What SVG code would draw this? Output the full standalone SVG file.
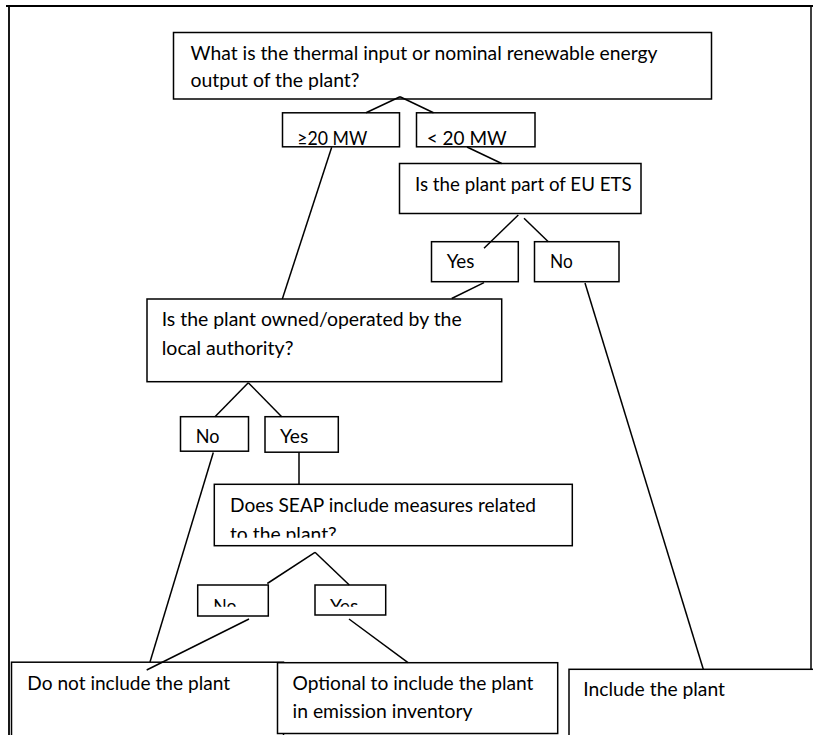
<svg xmlns="http://www.w3.org/2000/svg" width="813" height="735" viewBox="0 0 813 735">
<style>
.box{fill:#fff;stroke:#000;stroke-width:1.5}
.t{font-family:Lato,"Liberation Sans",sans-serif;font-size:19.5px;fill:#000}
.c line{stroke:#000;stroke-width:1.5}
.frame{stroke:#000;fill:none}
</style>
<defs>
<clipPath id="clipSeap"><rect x="214" y="484" width="358" height="53.7"/></clipPath>
<clipPath id="clipNo2"><rect x="198" y="585" width="70" height="21.7"/></clipPath>
<clipPath id="clipYes2"><rect x="315" y="585" width="71" height="21.7"/></clipPath>
</defs>
<rect width="813" height="735" fill="#fff"/>
<g id="frame">
<line class="frame" x1="6" y1="6" x2="813" y2="6" stroke-width="2.2"/>
<line class="frame" x1="9" y1="6" x2="9" y2="735" stroke-width="1.8"/>
<line class="frame" x1="811" y1="6" x2="811" y2="669" stroke-width="1.5"/>
</g>
<g id="q-input">
<rect class="box" x="173.5" y="32.5" width="538" height="66.5"/>
<text class="t" x="190.5" y="60" textLength="467" lengthAdjust="spacingAndGlyphs">What is the thermal input or nominal renewable energy</text>
<text class="t" x="190.5" y="87" textLength="169" lengthAdjust="spacingAndGlyphs">output of the plant?</text>
</g>
<g id="gt20">
<rect class="box" x="282.5" y="112.8" width="117" height="34"/>
<text class="t" x="297.3" y="145" textLength="70" lengthAdjust="spacingAndGlyphs">≥20 MW</text>
</g>
<g id="lt20">
<rect class="box" x="416.5" y="112.8" width="118.5" height="34"/>
<text class="t" x="426.7" y="145" textLength="80" lengthAdjust="spacingAndGlyphs">&lt; 20 MW</text>
</g>
<g id="q-ets">
<rect class="box" x="399.5" y="163.5" width="241.5" height="50"/>
<text class="t" x="415" y="191" textLength="216.7" lengthAdjust="spacingAndGlyphs">Is the plant part of EU ETS</text>
</g>
<g id="ets-yes">
<rect class="box" x="431.5" y="241.7" width="86.8" height="40"/>
<text class="t" x="446.7" y="268" textLength="27.7" lengthAdjust="spacingAndGlyphs">Yes</text>
</g>
<g id="ets-no">
<rect class="box" x="534.5" y="241.7" width="84.5" height="40"/>
<text class="t" x="550" y="268" textLength="22.7" lengthAdjust="spacingAndGlyphs">No</text>
</g>
<g id="q-owned">
<rect class="box" x="147" y="299" width="354.7" height="82.7"/>
<text class="t" x="161.7" y="326" textLength="300" lengthAdjust="spacingAndGlyphs">Is the plant owned/operated by the</text>
<text class="t" x="161.7" y="355" textLength="131.7" lengthAdjust="spacingAndGlyphs">local authority?</text>
</g>
<g id="owned-no">
<rect class="box" x="180.5" y="416.7" width="68" height="34.5"/>
<text class="t" x="195.7" y="443" textLength="23.7" lengthAdjust="spacingAndGlyphs">No</text>
</g>
<g id="owned-yes">
<rect class="box" x="265" y="416.7" width="73.3" height="35.5"/>
<text class="t" x="280" y="443" textLength="28.3" lengthAdjust="spacingAndGlyphs">Yes</text>
</g>
<g id="q-seap">
<rect class="box" x="214.3" y="484.3" width="358" height="61.4"/>
<text class="t" x="230" y="511.7" textLength="306" lengthAdjust="spacingAndGlyphs">Does SEAP include measures related</text>
<text class="t" x="230" y="540.5" textLength="106.7" lengthAdjust="spacingAndGlyphs" clip-path="url(#clipSeap)">to the plant?</text>
</g>
<g id="seap-no">
<rect class="box" x="197.7" y="585" width="70.6" height="31"/>
<text class="t" x="213.3" y="613" textLength="23.3" lengthAdjust="spacingAndGlyphs" clip-path="url(#clipNo2)">No</text>
</g>
<g id="seap-yes">
<rect class="box" x="315" y="585" width="70.7" height="30"/>
<text class="t" x="330" y="613" textLength="28.3" lengthAdjust="spacingAndGlyphs" clip-path="url(#clipYes2)">Yes</text>
</g>
<g id="do-not-include">
<rect class="box" x="11.5" y="662.2" width="272" height="80"/>
<text class="t" x="27.3" y="690" textLength="202.7" lengthAdjust="spacingAndGlyphs">Do not include the plant</text>
</g>
<g id="optional">
<rect class="box" x="277.5" y="662.7" width="280.2" height="70.8"/>
<text class="t" x="292.5" y="690" textLength="241" lengthAdjust="spacingAndGlyphs">Optional to include the plant</text>
<text class="t" x="292.5" y="718.3" textLength="180" lengthAdjust="spacingAndGlyphs">in emission inventory</text>
</g>
<g id="include">
<rect class="box" x="569" y="669.3" width="260" height="80"/>
<text class="t" x="583.3" y="696" textLength="141.7" lengthAdjust="spacingAndGlyphs">Include the plant</text>
</g>
<g id="connectors" class="c">
<line x1="400" y1="96.7" x2="366" y2="112.8"/>
<line x1="400" y1="96.7" x2="433.5" y2="112.8"/>
<line x1="331.7" y1="147.3" x2="282.3" y2="299"/>
<line x1="467" y1="147" x2="501.7" y2="163.5"/>
<line x1="518.3" y1="215" x2="484" y2="248.3"/>
<line x1="524" y1="218.3" x2="548.3" y2="241.7"/>
<line x1="484" y1="282.7" x2="451.7" y2="298.5"/>
<line x1="585" y1="283" x2="703.3" y2="669.3"/>
<line x1="248.3" y1="382.7" x2="215" y2="416.7"/>
<line x1="248.3" y1="382.7" x2="281.7" y2="416.7"/>
<line x1="213.3" y1="452.5" x2="150" y2="662"/>
<line x1="299" y1="452.3" x2="299" y2="484.3"/>
<line x1="315" y1="552.3" x2="267.3" y2="583.5"/>
<line x1="315" y1="552.3" x2="349.3" y2="585"/>
<line x1="249" y1="619" x2="146.7" y2="670"/>
<line x1="349" y1="619" x2="408" y2="662.7"/>
</g>
</svg>
